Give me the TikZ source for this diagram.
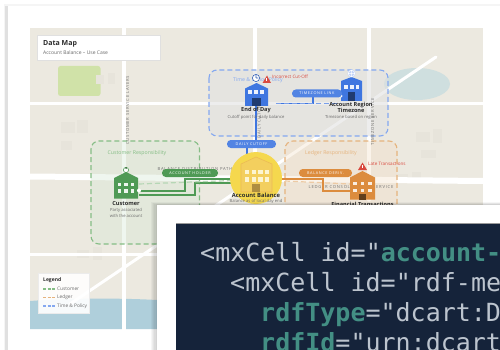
\documentclass[tikz,border=0pt]{standalone}
\usepackage{fontspec}
\setmainfont{Open Sans}
\newfontfamily\codefont{DejaVu Sans Mono}
\newfontfamily\spacedfont[LetterSpace=17]{Open Sans}
\usetikzlibrary{shapes.geometric,calc}
\definecolor{mapbg}{HTML}{ECE9E0}
\definecolor{blockc}{HTML}{E7E4DB}
\definecolor{water}{HTML}{AFCFDB}
\definecolor{lake}{HTML}{CFDFDF}
\definecolor{park}{HTML}{D0E2A8}
\definecolor{bluec}{HTML}{3F76E0}
\definecolor{bluedash}{HTML}{84A8F0}
\definecolor{greenc}{HTML}{4F9A55}
\definecolor{greendash}{HTML}{85BD85}
\definecolor{orangec}{HTML}{DC8C3E}
\definecolor{orangedash}{HTML}{E5B37D}
\definecolor{yellowc}{HTML}{F5D84E}
\definecolor{yellowb}{HTML}{F3CF5E}
\definecolor{redc}{HTML}{D9493F}
\definecolor{navy}{HTML}{15233A}
\definecolor{tealc}{HTML}{438F84}
\definecolor{codelight}{HTML}{BCC4CE}
\definecolor{inkc}{HTML}{2B2B2B}
\definecolor{greyt}{HTML}{6A6A6A}
\tikzset{
  x=1pt,y=-1pt,
  road/.style={draw=white,line cap=round},
  groupbox/.style={rounded corners=8pt,dash pattern=on 5pt off 3pt,line width=1.1pt},
  pill/.style={rounded corners=3.8pt,draw=none,inner sep=0pt,minimum height=8pt,text=white,font=\spacedfont\fontsize{3.8}{4}\selectfont,align=center},
  title/.style={font=\bfseries\fontsize{5.6}{6.5}\selectfont,text=inkc,inner sep=0pt,align=center},
  subt/.style={font=\fontsize{4.2}{6}\selectfont,text=greyt,inner sep=0pt,align=center},
  warn/.style={font=\fontsize{4.6}{5}\selectfont,text=redc,inner sep=0pt,anchor=west},
  roadtext/.style={font=\spacedfont\fontsize{4.2}{5}\selectfont,text=black!55,inner sep=0pt},
  grouptext/.style={font=\fontsize{5.2}{6}\selectfont,inner sep=0pt},
  legtext/.style={font=\fontsize{4.8}{6}\selectfont,text=greyt,inner sep=0pt,anchor=west},
  codeline/.style={font=\codefont\fontsize{25}{30}\selectfont,text=codelight,inner sep=0pt,anchor=base west},
  edgew/.style={line width=2pt},
  dashlight/.style={line width=1.2pt,dash pattern=on 5pt off 3pt},
  legdash/.style={line width=1.1pt,dash pattern=on 3pt off 1.5pt},
}
\begin{document}
\begin{tikzpicture}
\useasboundingbox (0,0) rectangle (500,350);
\fill[white] (0,0) rectangle (500,350);
% outer card
\fill[black!4] (4,4) rectangle (500,350);
\fill[black!12] (5,6) rectangle (8,350);
\fill[white] (8,6) rectangle (500,350);
% map
\fill[mapbg] (30,28) rectangle (483,329);
\path[fill=water] (30,301) .. controls (70,298) and (120,298) .. (157,300) -- (157,329) -- (30,329) -- cycle;
\fill[lake] (417,84) ellipse (33 and 16);
\fill[park,rounded corners=2.5pt] (58,66) rectangle (100.5,96);
\foreach \a/\b/\c/\d in {96/75/8/9,108/73/7/11,61/122/14/11,77/120/11/13,61/141/11/9,416/132/14/10,433/129/9/14,421/150/15/8,398/174/10/5,412/172/9/6,77/250/12/8,93/247/9/13}
  \fill[blockc] (\a,\b) rectangle ++(\c,\d);
% roads
\draw[road,line width=3pt,line cap=butt] (30,103.5) -- (483,103.5);
\draw[road,line width=3pt,line cap=butt] (30,254) -- (160,254);
\draw[road,line width=6pt,line cap=butt] (30,176.5) -- (483,181);
\draw[road,line width=3.4pt] (124,28) -- (124,330);
\draw[road,line width=3.4pt] (255,26) -- (255,200);
\draw[road,line width=3.4pt] (369,28) -- (369,200);
\draw[road,line width=3pt] (436,57) -- (70,304);
% groups
\draw[groupbox,draw=bluedash,fill=black!12,fill opacity=.55] (209,70) rectangle (388,136);
\draw[groupbox,draw=greendash,fill=greendash!35,fill opacity=.35] (91,141) rectangle (199.5,244);
\draw[groupbox,draw=orangedash,fill=orangedash!45,fill opacity=.35] (285,141) rectangle (397,240);
\node[grouptext,text=bluedash] (gtime) at (258,80.5) {Time \& Period Policy};
\node[grouptext,text=greendash] (gcust) at (137,153) {Customer Responsibility};
\node[grouptext,text=orangedash] (gledg) at (331,153) {Ledger Responsibility};
% road labels
\node[roadtext,rotate=90] (rl1) at (127.5,110.5) {CUSTOMER SERVICE LAYERS};
\node[roadtext] (rl2) at (195,168.5) {BALANCE DISTRIBUTION PATH};
\node[roadtext] (rl3) at (351,186.5) {LEDGER CONSOLIDATION SERVICE};
\node[roadtext,rotate=90] (rl4) at (259,121) {DAILY CUTOFF};
\node[roadtext,rotate=90] (rl5) at (372.5,122) {TIMEZONE SERVICE};
% title box
\node[draw=black!12,fill=white,line width=.7pt,minimum width=123pt,minimum height=25pt,inner sep=0pt] (titlebox) at (98.5,47.5) {};
\node[font=\bfseries\fontsize{7}{8}\selectfont,text=inkc,inner sep=0pt,anchor=west] (t1) at (43,43.5) {Data Map};
\node[font=\fontsize{5}{6}\selectfont,text=greyt,inner sep=0pt,anchor=west] (t2) at (43,52.5) {Account Balance -- Use Case};
% named anchors
\coordinate (cp1) at (139,190.5);
\coordinate (cp2) at (139,195);
\coordinate (cp3) at (139,184);
\coordinate (bal1) at (232,178.5);
\coordinate (bal2) at (232,183);
\coordinate (bal3) at (232,180.5);
\coordinate (bal4) at (280,178.5);
\coordinate (bal5) at (285,181);
\coordinate (fin1) at (350,191);
\coordinate (fin2) at (350,184);
\coordinate (eod) at (256,106);
\coordinate (eod2) at (276,103.5);
\coordinate (tz) at (340,103.5);
\coordinate (baltop) at (247,154);
% edges customer
\draw[greenc,edgew] (cp1) -- (185,190.5) -- (185,178.5) -- (bal1);
\draw[greenc,edgew] (cp2) -- (195,195) -- (195,183) -- (bal2);
\draw[greendash!60!white,dashlight] (cp3) -- (bal3);
% edges ledger
\draw[orangec,edgew] (bal4) -- (323,178.5) -- (323,191) -- (fin1);
\draw[orangedash!70!white,dashlight] (bal5) -- (fin2);
% edges blue
\draw[bluec,line width=2.2pt] (eod) -- (256,141);
\draw[bluec,line width=2.2pt] (247,147) -- (baltop);
\draw[bluec,line width=1.3pt] (eod2) -- (313,103.5) -- (313,96);
\draw[bluec!70!white,line width=1.5pt,dash pattern=on 5pt off 3pt] (eod2) -- (tz);
% customer
\fill[white] (126,170) circle (2.8);
\draw[greenc,line width=.6pt] (126,170) circle (2.6);
\fill[greenc!70!black] (126,168) circle (1);
\fill[greenc] (114,178) -- (126,172) -- (138,178) -- (138,198.5) -- (114,198.5) -- cycle;
\foreach \x in {119.5,126,132.5} \foreach \y in {184.5,191} \fill[white!90!greenc] (\x-1.8,\y-1.8) rectangle ++(3.6,3.6);
\fill[white] (139,190.5) circle (2);
\node[title] (custn) at (126,203) {Customer};
\node[subt] (custs) at (126,213) {Party associated\\with the account};
% account balance
\fill[yellowc] (256,178) circle (26);
\fill[yellowb,draw=orangec!30!yellowb,line width=.6pt] (241,164) -- (256,157) -- (272,164) -- (272,192) -- (241,192) -- cycle;
\foreach \x in {247,254,260.5,267} \foreach \y in {172,179.5} \fill[white!75!yellowc] (\x-2.2,\y-2.2) rectangle ++(4.4,4.4);
\fill[black!30!yellowb!80!brown] (252,184) rectangle (260,192);
\node[title,font=\bfseries\fontsize{5.8}{7}\selectfont] (baln) at (256,195) {Account Balance};
\node[subt] (bals) at (256,201.5) {Balance as of local day end};
% end of day
\fill[bluec] (245,88.5) -- (256.5,83) -- (268,88.5) -- (268,106) -- (245,106) -- cycle;
\foreach \x in {250,256,262} \fill[white!90!bluec] (\x-1.7,90.5) rectangle ++(3.4,3.4);
\fill[bluec!50!black] (252,98) rectangle (260.5,106);
\fill[white] (256,78) circle (4);
\draw[bluec!80!black,line width=.6pt] (256,78) circle (3.6) (256,78) -- (256,75.5) (256,78) -- (258,78);
\node[title] (eodn) at (256,110) {End of Day};
\node[subt] (eods) at (256,117) {Cutoff point for daily balance};
\fill[redc] (262.5,83) -- (267,75.5) -- (271,83) -- cycle;
\fill[white] (266.4,78) rectangle (267.4,81);
\node[warn] (eodw) at (272,77) {Incorrect Cut-Off};
% timezone
\fill[bluec] (341,81) -- (351.5,77) -- (362,81) -- (362,101) -- (341,101) -- cycle;
\foreach \x in {346,352,357.5} \fill[white!90!bluec] (\x-1.6,85.5) rectangle ++(3.2,3.2);
\fill[bluec!50!black] (347.5,92) rectangle (355,101);
\fill[bluedash!50!white] (351.5,73.5) circle (4);
\draw[white,line width=.5pt] (351.5,73.5) circle (3.2) (348,73.5) -- (355,73.5) (351.5,70) -- (351.5,77);
\fill[white] (341,96) circle (1.6);
\node[title] (tzn) at (351,107.5) {Account Region\\Timezone};
\node[subt] (tzs) at (351,117) {Timezone based on region};
% financial
\fill[orangec] (350,177.5) -- (362.5,171) -- (375,177.5) -- (375,199.5) -- (350,199.5) -- cycle;
\foreach \x in {355,362.5,370} \foreach \y in {183.5,190.5} \fill[white!85!orangec] (\x-1.8,\y-1.8) rectangle ++(3.6,3.6);
\fill[orangec!45!black] (358.5,194) rectangle (366,199.5);
\fill[redc] (358,170) -- (362.5,162.5) -- (367,170) -- cycle;
\fill[white] (362,165) rectangle (363,168);
\node[warn] (finw) at (368,164) {Late Transactions};
\node[title] (finn) at (362.5,204) {Financial Transactions};
% pills
\node[pill,fill=greenc,minimum width=56pt] (pa) at (190,173) {ACCOUNT HOLDER};
\node[pill,fill=bluec!90!white,minimum width=49pt] (pd) at (251.5,144) {DAILY CUTOFF};
\node[pill,fill=bluec!90!white,minimum width=50pt] (pt) at (317,93.5) {TIMEZONE LINK};
\node[pill,fill=orangec,minimum width=53pt] (pb) at (325.5,173) {BALANCE DERIV.};
% legend
\node[fill=white,fill opacity=.9,draw=black!8,line width=.5pt,minimum width=51pt,minimum height=40pt,inner sep=0pt] (legbox) at (63.5,293) {};
\node[font=\bfseries\fontsize{5}{6}\selectfont,text=inkc,inner sep=0pt,anchor=west] (legt) at (43,280) {Legend};
\node[legtext] (l1) at (57,289) {Customer};
\node[legtext] (l2) at (57,297.5) {Ledger};
\node[legtext] (l3) at (57,306) {Time \& Policy};
\draw[greendash,legdash] (43,289) -- (55,289);
\draw[orangedash,legdash] (43,297.5) -- (55,297.5);
\draw[bluedash,legdash] (43,306) -- (55,306);
% front card with soft shadow
\foreach \i in {1,...,5}
  \fill[black,fill opacity=.035] (157-1.3*\i,205-.6*\i) rectangle (500,350);
\fill[white] (157,205) rectangle (500,350);
\fill[navy] (176,223) rectangle (500,350);
\draw[black!40,line width=.5pt] (176,223) -- (500,223);
\begin{scope}
\clip (176,223) rectangle (500,350);
\node[codeline] (c1) at (200,261) {<mxCell id="\textcolor{tealc}{\bfseries account-}};
\node[codeline] (c2) at (230,291) {<mxCell id="rdf-me};
\node[codeline] (c3) at (260,321) {\textcolor{tealc}{\bfseries rdfType}="dcart:D};
\node[codeline] (c4) at (260,351) {\textcolor{tealc}{\bfseries rdfId}="urn:dcart};
\end{scope}
\end{tikzpicture}
\end{document}
